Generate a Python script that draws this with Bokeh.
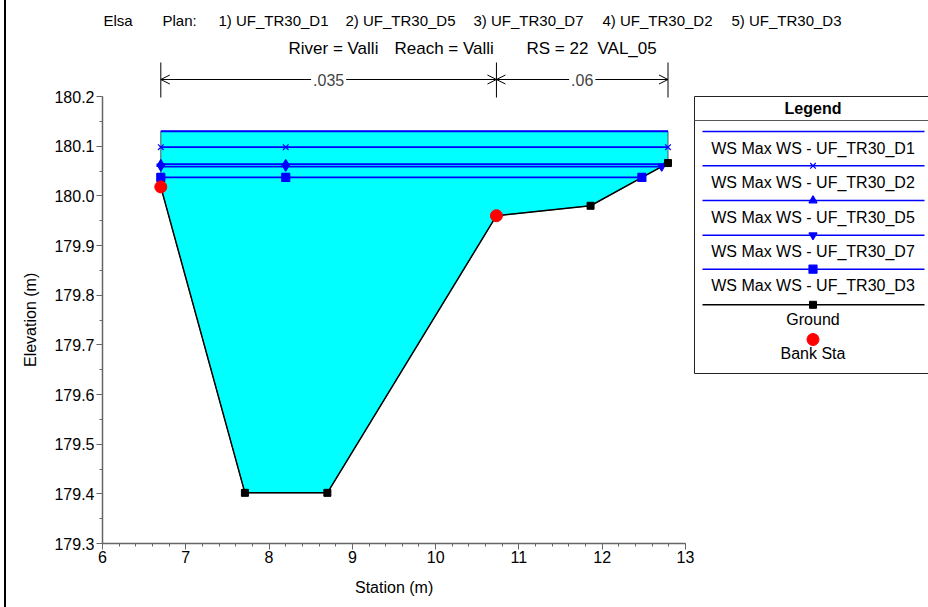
import numpy as np
from bokeh.plotting import figure
from bokeh.models import (Range1d, FixedTicker, PrintfTickFormatter, Label, Arrow, OpenHead, Title)
from bokeh.embed import file_html
from bokeh.resources import INLINE

# ---------------- data ----------------
ground_sta = [6.70, 7.71, 8.70, 10.73, 11.86, 12.79]
ground_el = [180.018, 179.402, 179.402, 179.960, 179.980, 180.066]
bank_sta = [6.70, 10.73]
bank_el = [180.018, 179.960]

ws_names = ["UF_TR30_D1", "UF_TR30_D2", "UF_TR30_D5", "UF_TR30_D7", "UF_TR30_D3"]
ws_el = [180.130, 180.098, 180.064, 180.059, 180.037]
ws_markers = [None, "x", "triangle", "inverted_triangle", "square"]
ws_marker_sta = [6.70, 8.20]

plan_order = ["UF_TR30_D1", "UF_TR30_D5", "UF_TR30_D7", "UF_TR30_D2", "UF_TR30_D3"]
n_sta = [6.70, 10.73, 12.79]
n_val = [".035", ".06"]

x_ticks = [6, 7, 8, 9, 10, 11, 12, 13]
y_ticks = [179.3, 179.4, 179.5, 179.6, 179.7, 179.8, 179.9, 180.0, 180.1, 180.2]
X_LO, X_HI = 6.0, 13.0
Y_LO, Y_HI = 179.3, 180.2

# ---------------- layout (page pixels) ----------------
OX = 6                      # figure's left offset on the page
PAGE_W, PAGE_H = 928, 607
AX_L, AX_R, AX_T, AX_B = 102, 685, 96, 543   # where the axes' bounds fall
FONT = "Liberation Sans"
BLUE = "#0000ff"
PXU = (AX_R - AX_L) / (X_HI - X_LO)
PYU = (AX_B - AX_T) / (Y_HI - Y_LO)


def dx(px):
    return X_LO + (px - AX_L) / PXU


def dy(py):
    return Y_HI - (py - AX_T) / PYU


W, H = PAGE_W - OX, PAGE_H
p = figure(width=W, height=H, output_backend="svg", toolbar_location=None,
           x_range=Range1d(X_LO, dx(PAGE_W)), y_range=Range1d(Y_LO, dy(0)),
           min_border_left=AX_L - OX, min_border_right=0,
           min_border_top=0, min_border_bottom=PAGE_H - AX_B)
p.margin = (0, 0, 0, OX)
p.styles = {"box-shadow": "-2px 0px 0px 0px black"}
p.title.visible = False
p.outline_line_color = None
p.xgrid.visible = False
p.ygrid.visible = False
p.background_fill_color = "white"
p.border_fill_color = "white"

x_minor = [round(v, 2) for v in np.arange(X_LO, X_HI + 0.001, 0.2)]
y_minor = [round(v, 3) for v in np.arange(Y_LO, Y_HI + 0.001, 0.05)]
p.xaxis.ticker = FixedTicker(ticks=x_ticks, minor_ticks=x_minor)
p.yaxis.ticker = FixedTicker(ticks=y_ticks, minor_ticks=y_minor)
p.yaxis.formatter = PrintfTickFormatter(format="%.1f")
p.xaxis.bounds = (X_LO, X_HI)
p.yaxis.bounds = (Y_LO, Y_HI)
for ax in (p.xaxis, p.yaxis):
    ax.axis_line_color = "#666666"
    ax.axis_line_width = 1.5
    ax.major_tick_line_color = "#666666"
    ax.minor_tick_line_color = "#666666"
    ax.major_tick_in = 0
    ax.major_tick_out = 6
    ax.minor_tick_in = 0
    ax.minor_tick_out = 3
    ax.major_label_text_font = FONT
    ax.major_label_text_font_size = "16px"
    ax.major_label_text_color = "black"
p.xaxis.major_label_standoff = 1
p.yaxis.major_label_standoff = 2

# axis titles, centred on the axes' bounds (the frame is wider than the axes)
XT_W = 78   # approx. rendered width of "Station (m)" at 16px
YT_W = 94   # approx. rendered width of "Elevation (m)" at 16px
p.add_layout(Title(text="Station (m)", align="left",
                   offset=(AX_L + AX_R) / 2 - XT_W / 2 - AX_L,
                   text_font=FONT, text_font_size="16px", text_font_style="normal",
                   text_color="black", standoff=23), "below")
p.add_layout(Title(text="Elevation (m)", align="left",
                   offset=AX_B - ((AX_T + AX_B) / 2 + YT_W / 2),
                   text_font=FONT, text_font_size="16px", text_font_style="normal",
                   text_color="black", standoff=26), "left")

# ---------------- water fill + ground ----------------
top = ws_el[0]
fill_x = list(ground_sta) + [ground_sta[-1], ground_sta[0]]
fill_y = list(ground_el) + [top, top]
p.patch(fill_x, fill_y, fill_color="#00ffff", line_color="#555555", line_width=1)


def ws_right_end(z):
    if ground_el[-1] <= z:
        return ground_sta[-1]
    for i in range(len(ground_sta) - 1, 0, -1):
        a, b = ground_el[i - 1], ground_el[i]
        if a <= z < b:
            t = (z - a) / (b - a)
            return ground_sta[i - 1] + t * (ground_sta[i] - ground_sta[i - 1])
    return ground_sta[-1]


p.line(ground_sta, ground_el, line_color="black", line_width=1.5)

for name, z, mk in zip(ws_names, ws_el, ws_markers):
    xe = ws_right_end(z)
    p.line([ground_sta[0], xe], [z, z], line_color=BLUE, line_width=1.8)
    if mk is not None:
        mx = list(ws_marker_sta) + [xe]
        p.scatter(mx, [z] * len(mx), marker=mk, size=8, line_color=BLUE,
                  fill_color=BLUE, line_width=1.2)

p.scatter(ground_sta, ground_el, marker="square", size=7, fill_color="black", line_color="black")
p.scatter(bank_sta, bank_el, marker="circle", size=12, fill_color="#ff0000", line_color="#ff0000")


# ---------------- texts ----------------
def text(px, py, s, size="16px", align="left", style="normal", bg=None):
    p.add_layout(Label(x=dx(px), y=dy(py), text=s, text_font=FONT, text_font_size=size,
                       text_align=align, text_baseline="middle", text_font_style=style,
                       text_color="black", background_fill_color=bg))


line1 = [("Elsa", 103), ("Plan:", 162)] + [
    (f"{i + 1}) {nm}", x) for i, (nm, x) in enumerate(zip(plan_order, [218, 345, 473, 602, 731]))]
for s, x in line1:
    text(x, 20, s, size="15px")
for s, x in [("River = Valli", 288), ("Reach = Valli", 394), ("RS = 22", 526), ("VAL_05", 597)]:
    text(x, 48, s, size="17px")

# Manning's n bar
p.segment(x0=n_sta, y0=[dy(62)] * len(n_sta), x1=n_sta, y1=[dy(97)] * len(n_sta),
          line_color="black", line_width=1)
for i, v in enumerate(n_val):
    p.add_layout(Arrow(x_start=n_sta[i], y_start=dy(79), x_end=n_sta[i + 1], y_end=dy(79),
                       start=OpenHead(size=9, line_width=1), end=OpenHead(size=9, line_width=1),
                       line_color="black", line_width=1))
    xm = (n_sta[i] + n_sta[i + 1]) / 2
    p.add_layout(Label(x=xm, y=dy(79), text=v, text_font=FONT, text_font_size="16px",
                       text_align="center", text_baseline="middle",
                       background_fill_color="white", padding=2))

# ---------------- legend ----------------
LX0, LX1, LT, LB = 694, 940, 96, 373
p.segment(x0=[dx(LX0), dx(LX0), dx(LX0)], y0=[dy(LT), dy(LB), dy(LT)],
          x1=[dx(LX1), dx(LX1), dx(LX0)], y1=[dy(LT), dy(LB), dy(LB)],
          line_color="#222222", line_width=1)
p.segment(x0=[dx(LX0)], y0=[dy(120)], x1=[dx(LX1)], y1=[dy(120)],
          line_color="#555555", line_width=1)
cx = 812.5
text(cx, 107.5, "Legend", align="center", style="bold")

leg_line_y = [131, 165.3, 200, 234.7, 268.7]
for name, ly, mk in zip(ws_names, leg_line_y, ws_markers):
    p.line([dx(702), dx(924)], [dy(ly), dy(ly)], line_color=BLUE, line_width=1.5)
    text(cx, ly + 16.5, f"WS Max WS - {name}", align="center")
    if mk is not None:
        p.scatter([dx(cx)], [dy(ly)], marker=mk, size=8, line_color=BLUE,
                  fill_color=BLUE, line_width=1.2)

gy = 304.3
p.line([dx(702), dx(924)], [dy(gy), dy(gy)], line_color="black", line_width=1.5)
p.scatter([dx(cx)], [dy(gy)], marker="square", size=7, fill_color="black", line_color="black")
text(cx, 319, "Ground", align="center")
p.scatter([dx(cx)], [dy(339)], marker="circle", size=12, fill_color="#ff0000", line_color="#ff0000")
text(cx, 353, "Bank Sta", align="center")

open("out.html", "w").write(file_html(p, INLINE))
